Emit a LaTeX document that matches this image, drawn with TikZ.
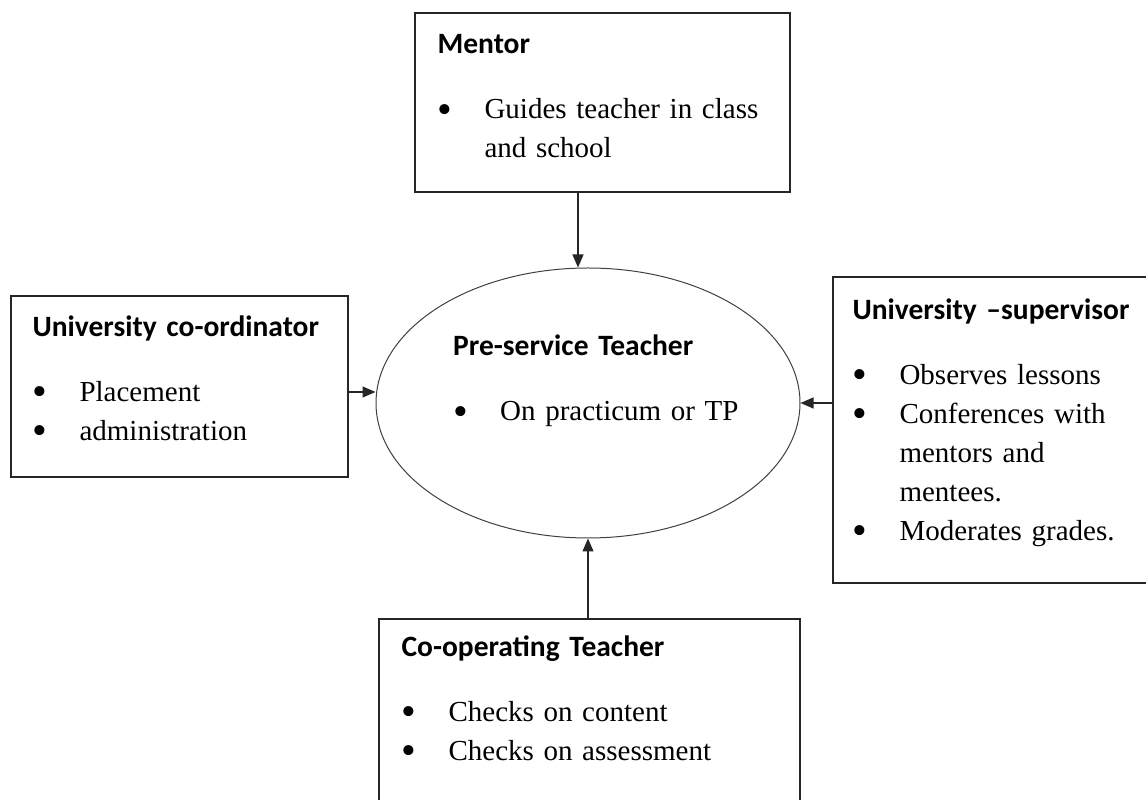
\documentclass[tikz,border=0pt]{standalone}
\usepackage{fontspec}
\setmainfont{Liberation Serif}
\newfontfamily\headfont{Carlito}
\usepackage{graphicx}
\usepackage{tikz}
\usetikzlibrary{shapes.geometric, arrows.meta}
\tikzstyle{rolebox} = [rectangle, draw=black!85, line width=1.3pt, inner sep=0pt]
\tikzstyle{roletext} = [inner sep=0pt, anchor=north west, align=left, font=\fontsize{29}{39}\selectfont]
\tikzstyle{arrow} = [line width=1.3pt, draw=black!85, -{Triangle[length=13pt,width=11pt]}]
\newcommand{\rolehead}[1]{{\headfont\bfseries\fontsize{29.5}{34}\selectfont #1\par}\vspace{26pt}}
\newcommand{\bul}[1]{\par\noindent\makebox[47pt][l]{\raisebox{-4.5pt}{\scalebox{1.45}{\textbullet}}}#1}
\newcommand{\cont}[1]{\par\noindent\hspace*{47pt}#1}

\begin{document}
\begin{tikzpicture}[x=1pt, y=1pt]
    \clip (0,0) rectangle (1146,800);
    \node (Mentor) [rolebox, minimum width=375pt, minimum height=179pt] at (602.5,697.5) {};
    \node (Coord) [rolebox, minimum width=337pt, minimum height=181pt] at (179.5,413.5) {};
    \node (Super) [rolebox, minimum width=327pt, minimum height=306pt] at (996.5,370) {};
    \node (Coop) [rolebox, minimum width=421pt, minimum height=196pt] at (589.5,83) {};
    \node (Pst) [ellipse, draw=black!75, line width=1pt, minimum width=424pt, minimum height=270pt] at (588,397) {};

    \node (MentorTxt) [roletext, text width=340pt] at ([xshift=23pt,yshift=-22pt]Mentor.north west)
        {\rolehead{Mentor}\bul{Guides teacher in class}\cont{and school}};
    \node (CoordTxt) [roletext, text width=320pt] at ([xshift=22pt,yshift=-20pt]Coord.north west)
        {\rolehead{University co-ordinator}\bul{Placement}\bul{administration}};
    \node (SuperTxt) [roletext, text width=300pt] at ([xshift=20pt,yshift=-22pt]Super.north west)
        {\rolehead{University \textendash supervisor}\bul{Observes lessons}\bul{Conferences with}\cont{mentors and}\cont{mentees.}\bul{Moderates grades.}};
    \node (CoopTxt) [roletext, text width=380pt] at ([xshift=23pt,yshift=-17pt]Coop.north west)
        {\rolehead{Co-operating Teacher}\bul{Checks on content}\bul{Checks on assessment}};
    \node (PstTxt) [roletext, text width=300pt] at (453,465)
        {\rolehead{Pre-service Teacher}\bul{On practicum or TP}};

    \draw [arrow] ([xshift=-24.5pt]Mentor.south) -- ([xshift=-10pt]Pst.north);
    \draw [arrow] ([yshift=-5.5pt]Coord.east) -- ([yshift=11pt]Pst.west);
    \draw [arrow] ([yshift=27pt]Super.west) -- (Pst.east);
    \draw [arrow] (Coop.north -| Pst.south) -- (Pst.south);
\end{tikzpicture}
\end{document}
